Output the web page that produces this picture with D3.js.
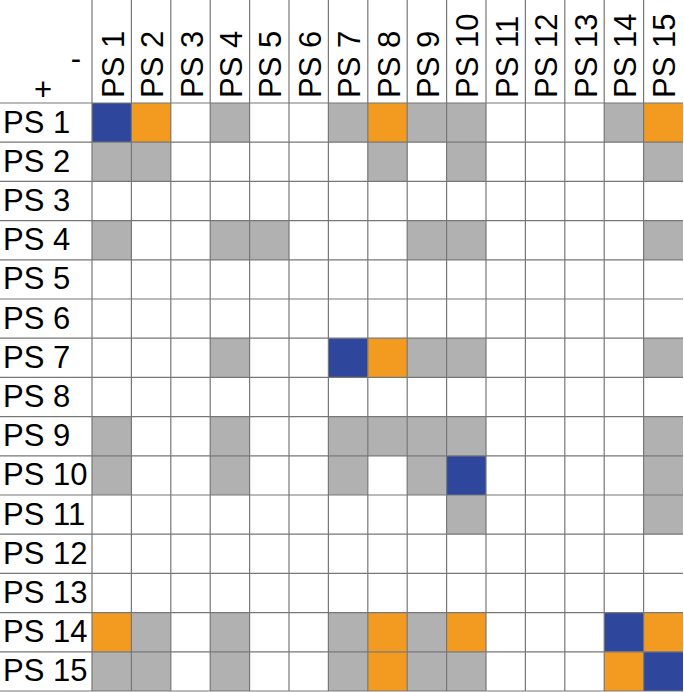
<!DOCTYPE html>
<html>
<head>
<meta charset="utf-8">
<script src="https://cdn.jsdelivr.net/npm/d3@7"></script>
<style>
  body { margin: 0; background: #fff; }
  svg { display: block; font-family: "Liberation Sans", Arial, sans-serif; }
</style>
</head>
<body>
<svg id="grid"></svg>
<script>
// labels of the states, rows are "+" and columns are "-"
const labels = ["PS 1", "PS 2", "PS 3", "PS 4", "PS 5", "PS 6", "PS 7", "PS 8",
  "PS 9", "PS 10", "PS 11", "PS 12", "PS 13", "PS 14", "PS 15"];
// 0 = empty, 1 = gray, 2 = orange, 3 = blue
const cellCodes = [
  [3, 2, 0, 1, 0, 0, 1, 2, 1, 1, 0, 0, 0, 1, 2],
  [1, 1, 0, 0, 0, 0, 0, 1, 0, 1, 0, 0, 0, 0, 1],
  [0, 0, 0, 0, 0, 0, 0, 0, 0, 0, 0, 0, 0, 0, 0],
  [1, 0, 0, 1, 1, 0, 0, 0, 1, 1, 0, 0, 0, 0, 1],
  [0, 0, 0, 0, 0, 0, 0, 0, 0, 0, 0, 0, 0, 0, 0],
  [0, 0, 0, 0, 0, 0, 0, 0, 0, 0, 0, 0, 0, 0, 0],
  [0, 0, 0, 1, 0, 0, 3, 2, 1, 1, 0, 0, 0, 0, 1],
  [0, 0, 0, 0, 0, 0, 0, 0, 0, 0, 0, 0, 0, 0, 0],
  [1, 0, 0, 1, 0, 0, 1, 1, 1, 1, 0, 0, 0, 0, 1],
  [1, 0, 0, 1, 0, 0, 1, 0, 1, 3, 0, 0, 0, 0, 1],
  [0, 0, 0, 0, 0, 0, 0, 0, 0, 1, 0, 0, 0, 0, 1],
  [0, 0, 0, 0, 0, 0, 0, 0, 0, 0, 0, 0, 0, 0, 0],
  [0, 0, 0, 0, 0, 0, 0, 0, 0, 0, 0, 0, 0, 0, 0],
  [2, 1, 0, 1, 0, 0, 1, 2, 1, 2, 0, 0, 0, 3, 2],
  [1, 1, 0, 1, 0, 0, 1, 2, 1, 1, 0, 0, 0, 2, 3]
];
const codeColors = ["#ffffff", "#b1b1b1", "#f39a21", "#2e479d"];

const width = 684;
const height = 692;
const gridLeft = 92, gridTop = 103, gridRight = 683, gridBottom = 691;
const fontSize = 31;

const svg = d3.select("#grid").attr("width", width).attr("height", height);

const x = d3.scaleBand().domain(labels).range([gridLeft, gridRight]);
const y = d3.scaleBand().domain(labels).range([gridTop, gridBottom]);

// flatten the matrix into cells
const cells = [];
cellCodes.forEach((row, i) => {
  row.forEach((c, j) => {
    if (c > 0) cells.push({ row: labels[i], col: labels[j], code: c });
  });
});

svg.selectAll("rect.cell")
  .data(cells)
  .enter()
  .append("rect")
  .attr("class", "cell")
  .attr("x", d => x(d.col))
  .attr("y", d => y(d.row))
  .attr("width", x.bandwidth())
  .attr("height", y.bandwidth())
  .attr("fill", d => codeColors[d.code]);

// grid lines: verticals go all the way up through the header
const xEdges = labels.map(l => x(l));
const yEdges = labels.map(l => y(l)).concat([gridBottom]);

svg.selectAll("line.v")
  .data(xEdges)
  .enter()
  .append("line")
  .attr("class", "v")
  .attr("x1", d => d).attr("x2", d => d)
  .attr("y1", 0).attr("y2", gridBottom)
  .attr("stroke", "#777")
  .attr("stroke-width", 1.2);

svg.selectAll("line.h")
  .data(yEdges)
  .enter()
  .append("line")
  .attr("class", "h")
  .attr("x1", 0).attr("x2", gridRight)
  .attr("y1", d => d).attr("y2", d => d)
  .attr("stroke", "#777")
  .attr("stroke-width", 1.2);

// row labels
svg.selectAll("text.row")
  .data(labels)
  .enter()
  .append("text")
  .attr("class", "row")
  .attr("x", 3)
  .attr("y", d => y(d) + y.bandwidth() / 2 + 10)
  .attr("font-size", fontSize)
  .attr("fill", "#000")
  .text(d => d);

// column labels, rotated
svg.selectAll("text.col")
  .data(labels)
  .enter()
  .append("text")
  .attr("class", "col")
  .attr("transform", d => "translate(" + (x(d) + x.bandwidth() / 2 + 12) + "," + (gridTop - 5) + ") rotate(-90)")
  .attr("font-size", fontSize)
  .attr("fill", "#000")
  .text(d => d);

// corner signs
svg.append("text")
  .attr("x", 76).attr("y", 69)
  .attr("text-anchor", "middle")
  .attr("font-size", fontSize)
  .attr("fill", "#000")
  .text("-");

svg.append("text")
  .attr("x", 43).attr("y", 100)
  .attr("text-anchor", "middle")
  .attr("font-size", fontSize)
  .attr("fill", "#000")
  .text("+");
</script>
</body>
</html>
